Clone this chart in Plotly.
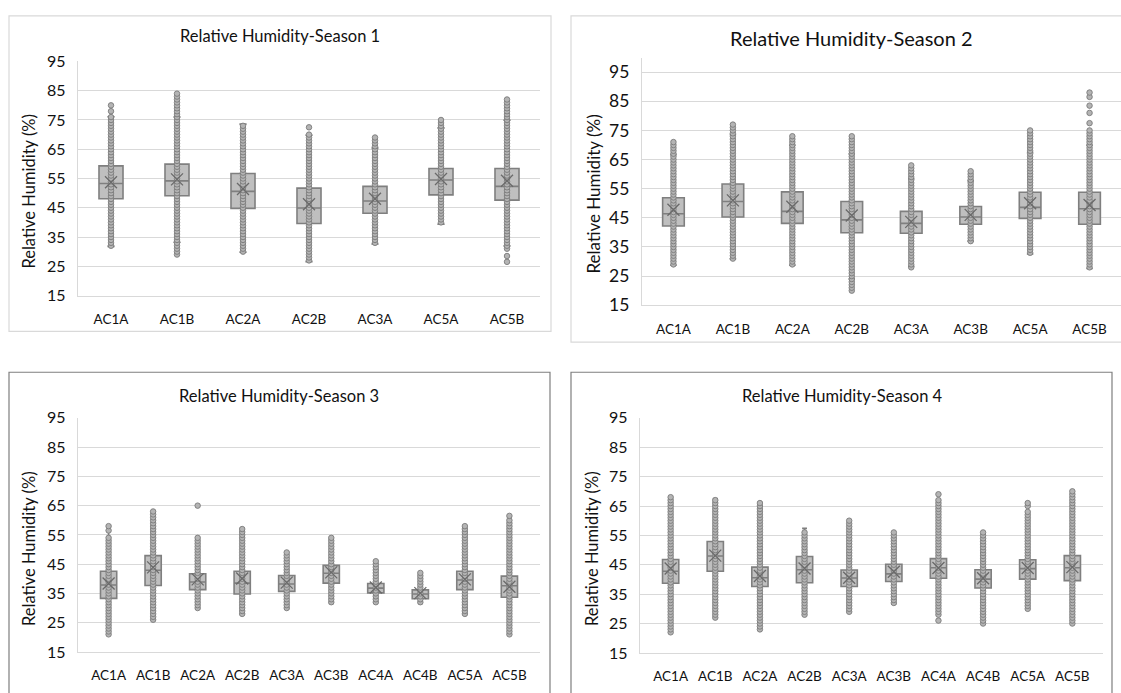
import plotly.graph_objects as go

W, H = 1121, 693

# ---------------- DATA ----------------
S1_CATS = ["AC1A", "AC1B", "AC2A", "AC2B", "AC3A", "AC5A", "AC5B"]
S1_Q1 = [48.1, 49.1, 44.8, 39.6, 43.1, 49.4, 47.6]
S1_MED = [53.3, 54.2, 50.6, 44.9, 47.3, 54.5, 52.3]
S1_Q3 = [59.3, 59.9, 56.7, 51.7, 52.3, 58.4, 58.4]
S1_LO = [31.8, 33.2, 29.8, 26.6, 32.6, 39.4, 31.9]
S1_HI = [76.1, 76.0, 73.6, 69.8, 65.4, 72.3, 74.9]
S1_MEAN = [53.7, 54.7, 51.4, 46.2, 48.1, 54.8, 54.2]
S1_DOTS = [
    [32,33,34,35,36,37,38,39,40,41,42,43,44,45,46,47,48,49,50,51,52,53,54,55,56,57,58,59,60,61,62,63,64,65,66,67,68,69,70,71,72,73,74,75,76,78,80],
    [29,30,31,32,33,34,35,36,37,38,39,40,41,42,43,44,45,46,47,48,49,50,51,52,53,54,55,56,57,58,59,60,61,62,63,64,65,66,67,68,69,70,71,72,73,74,75,76,77,78,79,80,81,82,83,84],
    [30,31,32,33,34,35,36,37,38,39,40,41,42,43,44,45,46,47,48,49,50,51,52,53,54,55,56,57,58,59,60,61,62,63,64,65,66,67,68,69,70,71,72,73],
    [27,28,29,30,31,32,33,34,35,36,37,38,39,40,41,42,43,44,45,46,47,48,49,50,51,52,53,54,55,56,57,58,59,60,61,62,63,64,65,66,67,68,69,70,72.5],
    [33,34,35,36,37,38,39,40,41,42,43,44,45,46,47,48,49,50,51,52,53,54,55,56,57,58,59,60,61,62,63,64,65,66,67,68,69],
    [40,41,42,43,44,45,46,47,48,49,50,51,52,53,54,55,56,57,58,59,60,61,62,63,64,65,66,67,68,69,70,71,72,73,74,75],
    [26.5,28.5,31,32,33,34,35,36,37,38,39,40,41,42,43,44,45,46,47,48,49,50,51,52,53,54,55,56,57,58,59,60,61,62,63,64,65,66,67,68,69,70,71,72,73,74,75,76,77,78,79,80,81,82],
]

S2_CATS = ["AC1A", "AC1B", "AC2A", "AC2B", "AC3A", "AC3B", "AC5A", "AC5B"]
S2_Q1 = [42.2, 45.3, 43.1, 39.9, 39.7, 42.8, 44.8, 42.8]
S2_MED = [46.4, 50.6, 47.2, 44.3, 43.1, 45.3, 48.6, 48.1]
S2_Q3 = [51.9, 56.6, 53.9, 50.6, 47.2, 48.9, 53.8, 53.8]
S2_LO = [28.7, 30.9, 28.7, 24.0, 28.4, 37.0, 32.6, 27.6]
S2_HI = [66.7, 73.6, 69.9, 66.9, 58.4, 57.7, 67.4, 69.9]
S2_MEAN = [47.8, 51.0, 48.8, 45.8, 43.6, 46.0, 50.0, 49.4]
S2_DOTS = [
    [29,30,31,32,33,34,35,36,37,38,39,40,41,42,43,44,45,46,47,48,49,50,51,52,53,54,55,56,57,58,59,60,61,62,63,64,65,66,67,68,69,70,71],
    [31,32,33,34,35,36,37,38,39,40,41,42,43,44,45,46,47,48,49,50,51,52,53,54,55,56,57,58,59,60,61,62,63,64,65,66,67,68,69,70,71,72,73,74,75,76,77],
    [29,30,31,32,33,34,35,36,37,38,39,40,41,42,43,44,45,46,47,48,49,50,51,52,53,54,55,56,57,58,59,60,61,62,63,64,65,66,67,68,69,70,71,72,73],
    [20,21,22,23,24,25,26,27,28,29,30,31,32,33,34,35,36,37,38,39,40,41,42,43,44,45,46,47,48,49,50,51,52,53,54,55,56,57,58,59,60,61,62,63,64,65,66,67,68,69,70,71,72,73],
    [28,29,30,31,32,33,34,35,36,37,38,39,40,41,42,43,44,45,46,47,48,49,50,51,52,53,54,55,56,57,58,59,60,61,62,63],
    [37,38,39,40,41,42,43,44,45,46,47,48,49,50,51,52,53,54,55,56,57,58,59,60,61],
    [33,34,35,36,37,38,39,40,41,42,43,44,45,46,47,48,49,50,51,52,53,54,55,56,57,58,59,60,61,62,63,64,65,66,67,68,69,70,71,72,73,74,75],
    [28,29,30,31,32,33,34,35,36,37,38,39,40,41,42,43,44,45,46,47,48,49,50,51,52,53,54,55,56,57,58,59,60,61,62,63,64,65,66,67,68,69,70,71,72,73,74,75,77.5,81,83.5,86.5,88],
]

S3_CATS = ["AC1A", "AC1B", "AC2A", "AC2B", "AC3A", "AC3B", "AC4A", "AC4B", "AC5A", "AC5B"]
S3_Q1 = [33.3, 37.7, 36.3, 34.8, 35.7, 38.5, 35.2, 33.2, 36.3, 33.7]
S3_MED = [37.9, 42.9, 38.9, 38.5, 38.2, 41.9, 36.8, 34.8, 39.6, 37.6]
S3_Q3 = [42.6, 47.9, 41.7, 42.6, 41.1, 44.6, 38.4, 36.2, 42.6, 40.9]
S3_LO = [21.0, 26.0, 29.6, 28.0, 29.6, 31.6, 31.8, 31.6, 28.2, 23.5]
S3_HI = [56.4, 63.0, 49.6, 54.0, 49.1, 53.6, 43.0, 40.6, 52.0, 51.4]
S3_MEAN = [38.4, 43.9, 39.8, 40.1, 38.7, 42.2, 37.0, 35.1, 39.8, 37.3]
S3_DOTS = [
    [21,22,23,24,25,26,27,28,29,30,31,32,33,34,35,36,37,38,39,40,41,42,43,44,45,46,47,48,49,50,51,52,53,54,56.5,58],
    [26,27,28,29,30,31,32,33,34,35,36,37,38,39,40,41,42,43,44,45,46,47,48,49,50,51,52,53,54,55,56,57,58,59,60,61,62,63],
    [30,31,32,33,34,35,36,37,38,39,40,41,42,43,44,45,46,47,48,49,50,51,52,53,54,65],
    [28,29,30,31,32,33,34,35,36,37,38,39,40,41,42,43,44,45,46,47,48,49,50,51,52,53,54,55,56,57],
    [30,31,32,33,34,35,36,37,38,39,40,41,42,43,44,45,46,47,48,49],
    [32,33,34,35,36,37,38,39,40,41,42,43,44,45,46,47,48,49,50,51,52,53,54],
    [32,33,34,35,36,37,38,39,40,41,42,43,44,45,46],
    [32,33,34,35,36,37,38,39,40,41,42],
    [28,29,30,31,32,33,34,35,36,37,38,39,40,41,42,43,44,45,46,47,48,49,50,51,52,53,54,55,56,57,58],
    [21,22,23,24,25,26,27,28,29,30,31,32,33,34,35,36,37,38,39,40,41,42,43,44,45,46,47,48,49,50,51,52,53,54,55,56,57,58,59,60,61.5],
]

S4_CATS = ["AC1A", "AC1B", "AC2A", "AC2B", "AC3A", "AC3B", "AC4A", "AC4B", "AC5A", "AC5B"]
S4_Q1 = [38.7, 42.8, 37.6, 38.9, 37.6, 39.3, 40.4, 37.1, 40.1, 39.6]
S4_MED = [42.8, 48.0, 40.6, 43.3, 40.5, 41.9, 44.0, 40.1, 43.7, 44.0]
S4_Q3 = [46.8, 52.9, 44.2, 47.8, 43.2, 45.2, 47.1, 43.3, 46.7, 48.1]
S4_LO = [27.6, 27.4, 28.0, 27.8, 29.4, 31.6, 30.5, 28.2, 30.2, 27.3]
S4_HI = [58.0, 67.5, 54.0, 57.4, 51.8, 54.0, 57.0, 52.5, 56.5, 60.8]
S4_MEAN = [43.7, 48.1, 41.2, 43.7, 40.6, 42.6, 43.9, 40.4, 43.9, 44.2]
S4_DOTS = [
    [22,23,24,25,26,27,28,29,30,31,32,33,34,35,36,37,38,39,40,41,42,43,44,45,46,47,48,49,50,51,52,53,54,55,56,57,58,59,60,61,62,63,64,65,66,67,68],
    [27,28,29,30,31,32,33,34,35,36,37,38,39,40,41,42,43,44,45,46,47,48,49,50,51,52,53,54,55,56,57,58,59,60,61,62,63,64,65,66,67],
    [23,24,25,26,27,28,29,30,31,32,33,34,35,36,37,38,39,40,41,42,43,44,45,46,47,48,49,50,51,52,53,54,55,56,57,58,59,60,61,62,63,64,65,66],
    [28,29,30,31,32,33,34,35,36,37,38,39,40,41,42,43,44,45,46,47,48,49,50,51,52,53,54,55,56],
    [29,30,31,32,33,34,35,36,37,38,39,40,41,42,43,44,45,46,47,48,49,50,51,52,53,54,55,56,57,58,59,60],
    [32,33,34,35,36,37,38,39,40,41,42,43,44,45,46,47,48,49,50,51,52,53,54,55,56],
    [26,28,29,30,31,32,33,34,35,36,37,38,39,40,41,42,43,44,45,46,47,48,49,50,51,52,53,54,55,56,57,58,59,60,61,62,63,64,65,66,67,69],
    [25,26,27,28,29,30,31,32,33,34,35,36,37,38,39,40,41,42,43,44,45,46,47,48,49,50,51,52,53,54,55,56],
    [30,31,32,33,34,35,36,37,38,39,40,41,42,43,44,45,46,47,48,49,50,51,52,53,54,55,56,57,58,59,60,61,62,63,65,66],
    [25,26,27,28,29,30,31,32,33,34,35,36,37,38,39,40,41,42,43,44,45,46,47,48,49,50,51,52,53,54,55,56,57,58,59,60,61,62,63,64,65,66,67,68,69,70],
]

TITLES = ["Relative Humidity-Season 1", "Relative Humidity-Season 2",
          "Relative Humidity-Season 3", "Relative Humidity-Season 4"]
Y_TITLE = "Relative Humidity (%)"
Y_TICKS = [15, 25, 35, 45, 55, 65, 75, 85, 95]

SEASONS = [
    (S1_CATS, S1_Q1, S1_MED, S1_Q3, S1_LO, S1_HI, S1_MEAN, S1_DOTS),
    (S2_CATS, S2_Q1, S2_MED, S2_Q3, S2_LO, S2_HI, S2_MEAN, S2_DOTS),
    (S3_CATS, S3_Q1, S3_MED, S3_Q3, S3_LO, S3_HI, S3_MEAN, S3_DOTS),
    (S4_CATS, S4_Q1, S4_MED, S4_Q3, S4_LO, S4_HI, S4_MEAN, S4_DOTS),
]

# ---------------- LAYOUT (pixel geometry) ----------------
FONT = "Lato, Carlito, 'Open Sans', sans-serif"
BOX_FILL = "#bfbfbf"
BOX_LINE = "#7f7f7f"
DOT_FILL = "#b4b4b4"
DOT_LINE = "#7a7a7a"
GRID = "#d9d9d9"
TXT = "#111111"

def fx(x):
    return x / W

def fy(y):
    return 1 - y / H

PANELS = [
    dict(x0=78, x1=540, yt=53, yb=294, ymax=95, title=(280, 27, 16.5), ytitle=(29, 187, 16.5),
         border=(9, 551, 6, 331), bcol=GRID, tick=16, xtick=13.5),
    dict(x0=642, x1=1121, yt=49, yb=304, ymax=100, title=(851, 29, 20), ytitle=(594, 190, 17),
         border=(571, 1130, 6, 342), bcol=GRID, tick=17.5, xtick=13.5),
    dict(x0=78, x1=540, yt=420, yb=661, ymax=95, title=(279, 397, 16.5), ytitle=(29, 555, 16.5),
         border=(9, 550, 373, 720), bcol="#7f7f7f", tick=16, xtick=13.5),
    dict(x0=640, x1=1103, yt=420, yb=662, ymax=95, title=(842, 397, 16.5), ytitle=(592, 555, 16.5),
         border=(571, 1112, 373, 720), bcol="#7f7f7f", tick=16, xtick=13.5),
]

fig = go.Figure()
shapes = []
annotations = []
layout_axes = {}

for i, (season, p) in enumerate(zip(SEASONS, PANELS)):
    cats, q1, med, q3, lo, hi, mean, dots = season
    n = "" if i == 0 else str(i + 1)
    xa, ya = "x" + n, "y" + n

    fig.add_trace(go.Box(
        x=cats, q1=q1, median=med, q3=q3, lowerfence=lo, upperfence=hi,
        boxpoints=False, fillcolor=BOX_FILL, line=dict(color=BOX_LINE, width=1.6),
        whiskerwidth=0.3, xaxis=xa, yaxis=ya, showlegend=False, hoverinfo="skip",
    ))
    dx, dy = [], []
    for c, vals in zip(cats, dots):
        dx += [c] * len(vals)
        dy += vals
    fig.add_trace(go.Scatter(
        x=dx, y=dy, mode="markers", xaxis=xa, yaxis=ya, showlegend=False,
        marker=dict(size=5.5, color=DOT_FILL, line=dict(color=DOT_LINE, width=0.9)),
        hoverinfo="skip",
    ))
    fig.add_trace(go.Scatter(
        x=cats, y=mean, mode="markers", xaxis=xa, yaxis=ya, showlegend=False,
        marker=dict(symbol="x-thin", size=12, line=dict(color="#6a6a6a", width=1.3)),
        hoverinfo="skip",
    ))

    layout_axes["xaxis" + n] = dict(
        domain=[fx(p["x0"]), min(1.0, fx(p["x1"]))], anchor=ya,
        type="category", categoryorder="array", categoryarray=cats,
        showgrid=False, zeroline=False, showline=True, linecolor=GRID, linewidth=1.3,
        ticks="", ticklabelstandoff=11,
        tickfont=dict(family=FONT, size=p["xtick"], color=TXT),
    )
    layout_axes["yaxis" + n] = dict(
        domain=[fy(p["yb"]), fy(p["yt"])], anchor=xa,
        range=[15, p["ymax"]], tickmode="array", tickvals=Y_TICKS,
        showgrid=True, gridcolor=GRID, gridwidth=1.3, zeroline=False,
        showline=True, linecolor=GRID, linewidth=1.3,
        ticks="", ticklabelstandoff=8,
        tickfont=dict(family=FONT, size=p["tick"], color=TXT),
    )

    tx, ty, ts = p["title"]
    annotations.append(dict(text=TITLES[i], x=fx(tx), y=fy(ty), xref="paper", yref="paper",
                            xanchor="center", yanchor="middle", showarrow=False,
                            font=dict(family=FONT, size=ts, color=TXT)))
    ax_, ay_, asz = p["ytitle"]
    annotations.append(dict(text=Y_TITLE, x=fx(ax_), y=fy(ay_), xref="paper", yref="paper",
                            xanchor="center", yanchor="middle", showarrow=False, textangle=-90,
                            font=dict(family=FONT, size=asz, color=TXT)))
    bx0, bx1, by0, by1 = p["border"]
    shapes.append(dict(type="rect", xref="paper", yref="paper",
                       x0=fx(bx0), x1=fx(bx1), y0=fy(by1), y1=fy(by0),
                       line=dict(color=p["bcol"], width=1.2), fillcolor="rgba(0,0,0,0)", layer="below"))

fig.update_layout(
    width=W, height=H, margin=dict(l=0, r=0, t=0, b=0),
    paper_bgcolor="white", plot_bgcolor="white",
    boxgap=0.48, showlegend=False,
    shapes=shapes, annotations=annotations,
    **layout_axes,
)

fig.write_html("out.html", config={"displayModeBar": False})

# remove the default page margin so the figure sits at the window origin
with open("out.html", "r", encoding="utf-8") as f:
    html = f.read()
html = html.replace("<head>", "<head><style>html,body{margin:0;padding:0;overflow:hidden;}</style>", 1)
with open("out.html", "w", encoding="utf-8") as f:
    f.write(html)
